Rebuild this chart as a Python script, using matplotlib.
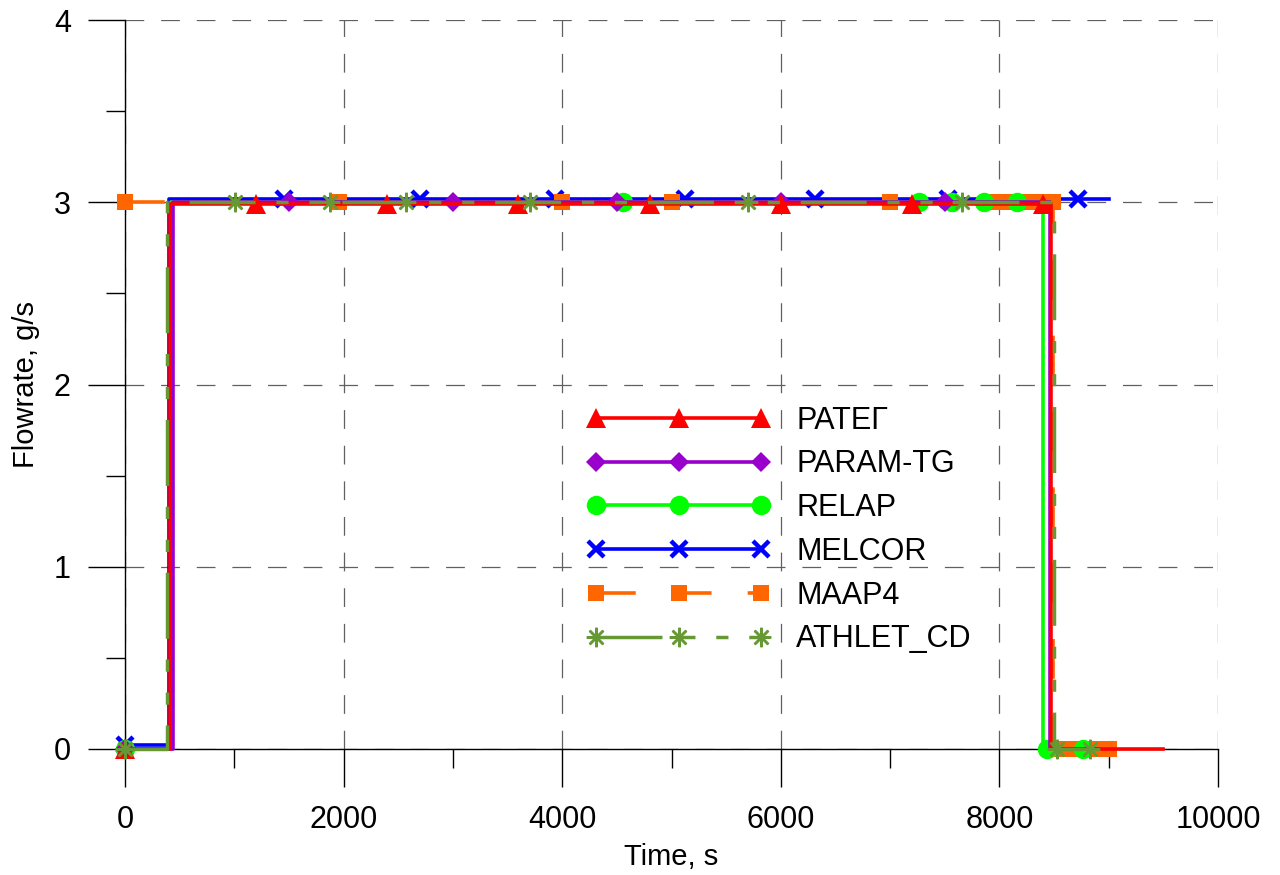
import matplotlib
matplotlib.use('Agg')
from matplotlib import pyplot
from matplotlib.lines import Line2D

pyplot.rcParams['font.family'] = ['Liberation Sans', 'DejaVu Sans']

# step curves of flowrate vs time, one pair of arrays per code
ratag_t = [0, 410, 410, 8470, 8470, 9500]
ratag_q = [0, 0, 2.99, 2.99, 0, 0]
ratag_mt = [0, 1200, 2400, 3600, 4800, 6000, 7200, 8400]
ratag_mq = [0, 2.99, 2.99, 2.99, 2.99, 2.99, 2.99, 2.99]

param_t = [0, 435, 435, 8460, 8460, 8900]
param_q = [0, 0, 3.0, 3.0, 0, 0]
param_mt = [0, 1500, 3000, 4500, 6000, 7500]
param_mq = [0, 3.0, 3.0, 3.0, 3.0, 3.0]

relap_t = [0, 420, 420, 8400, 8400, 8800]
relap_q = [0, 0, 3.0, 3.0, 0, 0]
relap_mt = [0, 4560, 7260, 7570, 7860, 8160, 8435, 8765]
relap_mq = [0, 3.0, 3.0, 3.0, 3.0, 3.0, 0, 0]

melcor_t = [0, 400, 400, 9000]
melcor_q = [0.02, 0.02, 3.02, 3.02]
melcor_mt = [0, 1455, 2700, 3935, 5125, 6315, 7530, 8720]
melcor_mq = [0.02, 3.02, 3.02, 3.02, 3.02, 3.02, 3.02, 3.02]

maap_t = [0, 8490, 8490, 9000]
maap_q = [3.0, 3.0, 0, 0]
maap_mt = [0, 1960, 4000, 5000, 7000, 7950, 8050, 8150, 8250, 8350, 8450, 8490,
           8490, 8580, 8680, 8780, 8880, 9000]
maap_mq = [3.0, 3.0, 3.0, 3.0, 3.0, 3.0, 3.0, 3.0, 3.0, 3.0, 3.0, 3.0,
           0, 0, 0, 0, 0, 0]

athlet_t = [0, 380, 380, 8500, 8500, 8850]
athlet_q = [0, 0, 3.0, 3.0, 0, 0]
athlet_mt = [0, 1005, 1880, 2570, 3705, 5700, 7655, 8525, 8830]
athlet_mq = [0, 3.0, 3.0, 3.0, 3.0, 3.0, 3.0, 0, 0]

labels = ['РАТЕГ', 'PARAM-TG', 'RELAP', 'MELCOR', 'MAAP4', 'ATHLET_CD']

# line / marker styles per code
styles = {
    'РАТЕГ': dict(color='#ff0000', marker='^', ms=15, mew=0, ls='-', lw=2.6),
    'PARAM-TG': dict(color='#9900cc', marker='D', ms=10.5, mew=0, ls='-', lw=2.6),
    'RELAP': dict(color='#00ff00', marker='o', ms=14, mew=0, ls='-', lw=2.6),
    'MELCOR': dict(color='#0000ff', marker='x', ms=11.5, mew=3.2, ls='-', lw=2.6),
    'MAAP4': dict(color='#ff6600', marker='s', ms=11, mew=0, ls=(0, (11, 10)), lw=2.6),
    'ATHLET_CD': dict(color='#669933', marker=(8, 2, 0), ms=14, mew=1.8, ls=(0, (19, 6, 3.5, 6, 3.5, 6)), lw=2.5),
}

data = {
    'РАТЕГ': (ratag_t, ratag_q, ratag_mt, ratag_mq),
    'PARAM-TG': (param_t, param_q, param_mt, param_mq),
    'RELAP': (relap_t, relap_q, relap_mt, relap_mq),
    'MELCOR': (melcor_t, melcor_q, melcor_mt, melcor_mq),
    'MAAP4': (maap_t, maap_q, maap_mt, maap_mq),
    'ATHLET_CD': (athlet_t, athlet_q, athlet_mt, athlet_mq),
}

draw_order = ['MELCOR', 'MAAP4', 'RELAP', 'PARAM-TG', 'РАТЕГ', 'ATHLET_CD']

fig = pyplot.figure(figsize=(12.8, 8.75), dpi=100)
ax = fig.add_axes([125 / 1280, 126 / 875, 1093 / 1280, 729 / 875])

for z, name in enumerate(draw_order):
    t, q, mt, mq = data[name]
    st = styles[name]
    ax.plot(t, q, color=st['color'], linestyle=st['ls'], linewidth=st['lw'],
            zorder=3 + z, clip_on=False)
    ax.plot(mt, mq, color=st['color'], marker=st['marker'], markersize=st['ms'],
            markeredgewidth=st['mew'], linestyle='None', zorder=3 + z, clip_on=False)

ax.set_xlim(0, 10000)
ax.set_ylim(0, 4)
ax.set_xticks(range(0, 10001, 2000))
ax.set_xticks(range(1000, 10000, 2000), minor=True)
ax.set_yticks([0, 1, 2, 3, 4])
ax.set_yticks([0.5, 1.5, 2.5, 3.5], minor=True)

ax.spines['top'].set_visible(False)
ax.spines['right'].set_visible(False)
ax.spines['left'].set_linewidth(1.0)
ax.spines['bottom'].set_linewidth(1.0)

ax.tick_params(which='major', direction='out', length=27, width=1.0, labelsize=22)
ax.tick_params(which='minor', direction='out', length=14, width=1.0)
ax.tick_params(axis='x', which='major', pad=13)
ax.tick_params(axis='y', which='major', pad=12)

ax.grid(True, which='major', color='#606060', linewidth=0.9, linestyle=(0, (15, 13.5)))
ax.set_axisbelow(True)

ax.set_xlabel('Time, s', fontsize=21, labelpad=6)
ax.set_ylabel('Flowrate, g/s', fontsize=21, labelpad=10)

handles = []
for name in labels:
    st = styles[name]
    handles.append(Line2D([], [], color=st['color'], linestyle=st['ls'], linewidth=st['lw'],
                          marker=st['marker'], markersize=st['ms'], markeredgewidth=st['mew']))
ax.legend(handles, labels, loc='upper left', bbox_to_anchor=(0.4227, 0.471),
          frameon=False, fontsize=22, numpoints=3, handlelength=6.0,
          handletextpad=0.85, labelspacing=0.45, borderpad=0, borderaxespad=0)

fig.savefig('out.png', dpi=100)
pyplot.close()
